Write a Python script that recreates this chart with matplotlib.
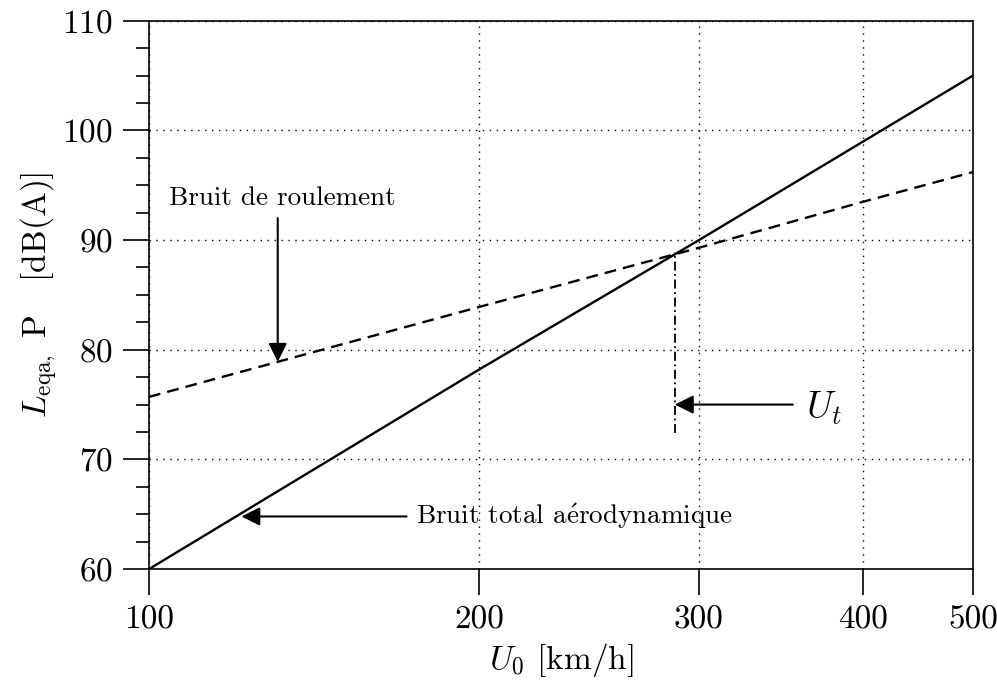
import numpy as np
import matplotlib
matplotlib.use('Agg')
import matplotlib.pyplot as plt

# speeds at the tick marks and where they sit along the axis (0..1)
u_ticks = [100, 200, 300, 400, 500]
u_tick_pos = [0.0, 0.4007, 0.6675, 0.867, 1.0]

# levels read at each tick speed [dB(A)]
u_vals = [100, 200, 300, 400, 500]
aero_total = [60.0, 78.2, 90.0, 99.0, 105.0]
rolling = [75.7, 83.9, 89.3, 93.5, 96.2]

# transition speed U_t
u_t = 289
u_t_levels = [72.4, 88.9]


def fwd(u):
    return np.interp(u, u_ticks, u_tick_pos)


def inv(p):
    return np.interp(p, u_tick_pos, u_ticks)


def setup_fonts():
    plt.rcParams['font.family'] = ['cmr10', 'DejaVu Serif']
    plt.rcParams['mathtext.fontset'] = 'cm'
    plt.rcParams['axes.formatter.use_mathtext'] = True
    plt.rcParams['axes.unicode_minus'] = False


def arrow(ax, tip, tail):
    ax.annotate('', xy=tip, xytext=tail,
                arrowprops=dict(arrowstyle='-|>', color='k', lw=1.5,
                                mutation_scale=28, shrinkA=0, shrinkB=0))


def main():
    setup_fonts()
    fig = plt.figure(figsize=(9.97, 6.89), dpi=100)
    ax = fig.add_axes([0.1494, 0.174, 0.8266, 0.796])
    ax.set_xscale('function', functions=(fwd, inv))

    ax.plot(u_vals, aero_total, 'k-', lw=1.7)
    ax.plot(u_vals, rolling, 'k--', lw=1.7, dashes=(5, 3))
    ax.plot([u_t, u_t], u_t_levels, 'k-.', lw=1.3, dashes=(5, 2, 1, 2))

    ax.set_xlim(100, 500)
    ax.set_ylim(60, 110)
    ax.set_xticks(u_ticks)
    ax.set_xticklabels([str(u) for u in u_ticks])
    ax.xaxis.set_minor_locator(matplotlib.ticker.NullLocator())
    ax.set_yticks(np.arange(60, 111, 10))
    ax.set_yticks(np.arange(60, 110.1, 2.5), minor=True)

    ax.tick_params(axis='both', which='major', direction='out',
                   length=19, width=1.2, labelsize=24, pad=7)
    ax.tick_params(axis='y', which='minor', direction='out',
                   length=9.5, width=1.2)
    for sp in ax.spines.values():
        sp.set_linewidth(1.2)

    ax.grid(True, which='major', color='k', linestyle=(0, (1, 4)), lw=1.0)

    ax.set_xlabel(r'$U_0$ [km/h]', fontsize=24, labelpad=5)
    ax.set_ylabel(r'$L_{\rm eqa,}$ P   [dB(A)]', fontsize=24, labelpad=2)

    # annotations
    ax.text(106, 93.8, 'Bruit de roulement', fontsize=19.5,
            ha='left', va='center')
    arrow(ax, (139, 78.9), (139, 92.0))

    ax.text(181, 64.8, r'Bruit total a$\mathrm{\acute{e}}$rodynamique',
            fontsize=19.5, ha='left', va='center')
    arrow(ax, (128, 64.8), (178, 64.8))

    ax.text(365, 74.7, r'$U_t$', fontsize=27, ha='left', va='center')
    arrow(ax, (u_t, 75.0), (357, 75.0))

    fig.savefig('out.png', dpi=100)
    plt.close(fig)


if __name__ == '__main__':
    main()
